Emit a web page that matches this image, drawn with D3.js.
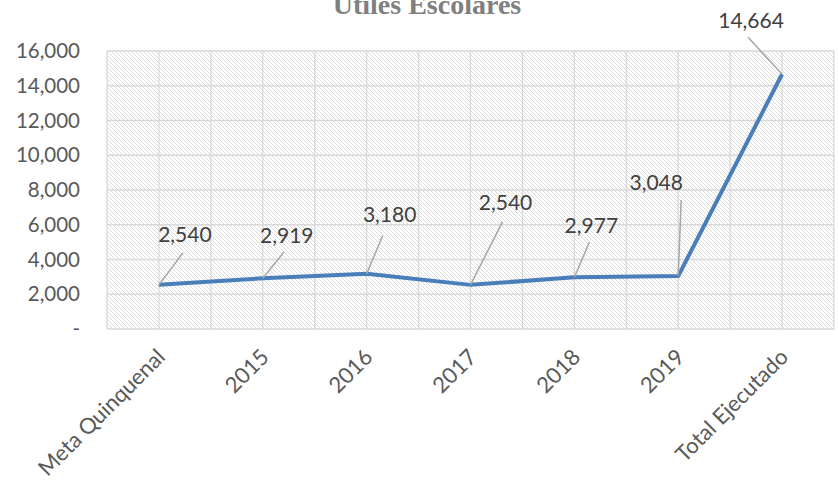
<!DOCTYPE html>
<html><head><meta charset="utf-8">
<script src="https://cdn.jsdelivr.net/npm/d3@7"></script>
<style>body{margin:0;background:#fff}svg{display:block}</style>
</head><body>
<svg id="c" width="838" height="483"></svg>
<script>
const categories = ["Meta Quinquenal","2015","2016","2017","2018","2019","Total Ejecutado"];
const values = [2540, 2919, 3180, 2540, 2977, 3048, 14664];
const yTicks = [0, 2000, 4000, 6000, 8000, 10000, 12000, 14000, 16000];
const title = "Útiles Escolares";
// label layout: centre offset and leader end offset from each point (pixels)
const labelOffsets = [[26,-50],[24,-43],[23,-59],[35,-82],[17,-52],[-22,-93],[-31,-54]];
const leaderEnds   = [[24,-32],[21,-26],[16,-38],[32,-63],[15,-35],[3,-76],[-34,-37]];

const svg = d3.select("#c");
const m = {l:107, r:834, t:51, b:329};
const x = d3.scaleBand().domain(categories).range([m.l, m.r]).paddingInner(0).paddingOuter(0);
const y = d3.scaleLinear().domain([0,16000]).range([m.b, m.t]);
const cx = d => x(d) + x.bandwidth()/2;

const defs = svg.append("defs");
const pat = defs.append("pattern").attr("id","hatch").attr("patternUnits","userSpaceOnUse")
  .attr("width",4).attr("height",4);
pat.append("rect").attr("width",4).attr("height",4).attr("fill","#fff");
pat.append("path").attr("d","M-1,-1 L5,5 M-1,3 L1,5 M3,-1 L5,1").attr("stroke","#d9d9d9").attr("stroke-width",0.9);

svg.append("rect").attr("x",m.l).attr("y",m.t).attr("width",m.r-m.l).attr("height",m.b-m.t).attr("fill","url(#hatch)");

// grid
const g = svg.append("g");
yTicks.forEach(t => g.append("line").attr("x1",m.l).attr("x2",m.r).attr("y1",y(t)).attr("y2",y(t))
  .attr("stroke","#d9d9d9").attr("stroke-width",1.3));
const vx = [];
categories.forEach(c => { vx.push(x(c)); vx.push(cx(c)); });
vx.push(m.r);
vx.forEach(v => g.append("line").attr("x1",v).attr("x2",v).attr("y1",m.t).attr("y2",m.b)
  .attr("stroke","#d9d9d9").attr("stroke-width",1.3));

// y axis labels
const fmt = d3.format(",");
svg.append("g").selectAll("text").data(yTicks).join("text")
  .attr("x",80).attr("y",d=>y(d)).attr("dy","0.35em").attr("text-anchor","end")
  .attr("font-family","Lato, sans-serif").attr("font-size",20.5).attr("fill","#595959")
  .text(d => d===0 ? "-" : fmt(d));

// x labels
svg.append("g").selectAll("text").data(categories).join("text")
  .attr("transform", d => `translate(${cx(d)+2},${353}) rotate(-45)`)
  .attr("text-anchor","end").attr("dy","0.35em")
  .attr("font-family","Lato, sans-serif").attr("font-size",22).attr("fill","#595959")
  .text(d=>d);

// line
const line = d3.line().x((d,i)=>cx(categories[i])).y(d=>y(d));
svg.append("path").datum(values).attr("d",line).attr("fill","none")
  .attr("stroke","#4a7ebb").attr("stroke-width",4).attr("stroke-linejoin","round");

// data labels + leaders
values.forEach((v,i) => {
  const px = cx(categories[i]), py = y(v);
  const [dx,dy] = labelOffsets[i];
  const [ex,ey] = leaderEnds[i];
  svg.append("line").attr("x1",px).attr("y1",py).attr("x2",px+ex).attr("y2",py+ey)
    .attr("stroke","#a6a6a6").attr("stroke-width",1.5);
  svg.append("text").attr("x",px+dx).attr("y",py+dy).attr("dy","0.35em").attr("text-anchor","middle")
    .attr("font-family","Lato, sans-serif").attr("font-size",21).attr("fill","#404040")
    .text(fmt(v));
});

svg.append("text").attr("x",427).attr("y",14).attr("text-anchor","middle")
  .attr("font-family","Liberation Serif, serif").attr("font-weight","bold").attr("font-size",28)
  .attr("fill","#7f7f7f").text(title);
</script>
</body></html>
